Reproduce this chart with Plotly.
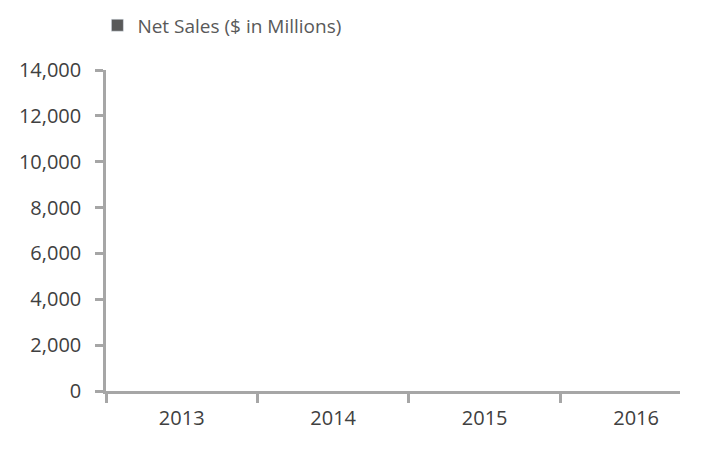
import plotly.graph_objects as go

years = ["2013", "2014", "2015", "2016"]
net_sales = [None, None, None, None]  # no bars visible in the reference
y_ticks = [0, 2000, 4000, 6000, 8000, 10000, 12000, 14000]
y_tick_text = ["0", "2,000", "4,000", "6,000", "8,000", "10,000", "12,000", "14,000"]

axis_color = "#A6A6A6"
text_color = "#404040"
font_family = "Open Sans, Noto Sans, sans-serif"

fig = go.Figure()
fig.add_trace(go.Bar(
    x=years, y=net_sales, name="Net Sales ($ in Millions)",
    marker=dict(color="#595959"), showlegend=True,
))

fig.update_layout(
    width=720, height=461,
    margin=dict(l=106, r=40, t=70, b=70),
    paper_bgcolor="white", plot_bgcolor="white",
    font=dict(family=font_family, size=20, color=text_color),
    showlegend=True,
    legend=dict(orientation="h", x=-0.015, y=0.945, xanchor="left", yanchor="middle",
                yref="container", font=dict(size=19, color="#595959"),
                itemwidth=30, bgcolor="rgba(0,0,0,0)"),
    xaxis=dict(
        type="category", range=[-0.5, 3.29],
        showline=True, linecolor=axis_color, linewidth=2.5,
        ticks="outside", tickson="boundaries", ticklen=9, tickcolor=axis_color, tickwidth=2.5,
        showgrid=False, zeroline=False,
        tickfont=dict(size=20, color=text_color),
        ticklabelstandoff=7,
    ),
    yaxis=dict(
        range=[0, 14000], tickvals=y_ticks, ticktext=y_tick_text,
        showline=True, linecolor=axis_color, linewidth=2.5,
        ticks="outside", ticklen=8, tickcolor=axis_color, tickwidth=2.5,
        showgrid=False, zeroline=False,
        tickfont=dict(size=20, color=text_color),
        ticklabelstandoff=10,
    ),
)

fig.write_html("out.html", post_script="document.body.style.margin='0';",
               config={"displayModeBar": False})
